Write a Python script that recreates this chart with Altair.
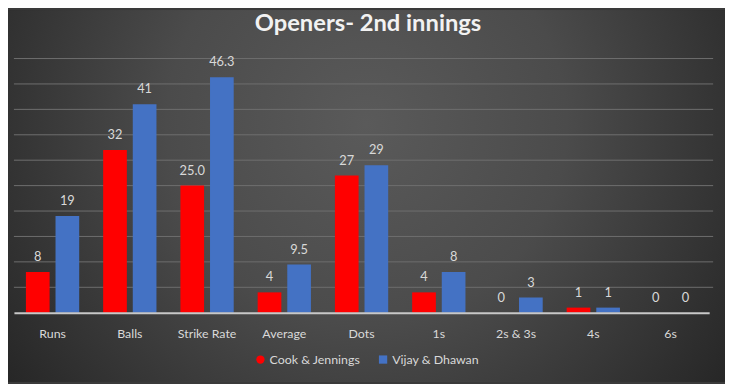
import altair as alt
import pandas as pd

categories = ["Runs", "Balls", "Strike Rate", "Average", "Dots", "1s", "2s & 3s", "4s", "6s"]
series = ["Cook & Jennings", "Vijay & Dhawan"]
cook_values = [8, 32, 25.0, 4, 27, 4, 0, 1, 0]
cook_labels = ["8", "32", "25.0", "4", "27", "4", "0", "1", "0"]
vijay_values = [19, 41, 46.3, 9.5, 29, 8, 3, 1, 0]
vijay_labels = ["19", "41", "46.3", "9.5", "29", "8", "3", "1", "0"]
grid_values = [5, 10, 15, 20, 25, 30, 35, 40, 45, 50]
title_text = "Openers- 2nd innings"
colors = ["#FF0000", "#4472C4"]

rows = []
for c, v, l in zip(categories, cook_values, cook_labels):
    rows.append({"cat": c, "series": series[0], "value": v, "label": l})
for c, v, l in zip(categories, vijay_values, vijay_labels):
    rows.append({"cat": c, "series": series[1], "value": v, "label": l})
df = pd.DataFrame(rows)
grid_df = pd.DataFrame({"g": grid_values})
one = pd.DataFrame({"t": [title_text]})

W, H = 703, 257
PAD = {"left": 6, "top": 49, "right": 16, "bottom": 70}

yscale = alt.Scale(domain=[0, 50], nice=False)
xscale = alt.Scale(paddingInner=0.31, paddingOuter=0.155)

bg = alt.Chart(one).mark_rect(
    fill={
        "gradient": "radial",
        "x1": 0.5, "y1": 0.4, "r1": 0,
        "x2": 0.5, "y2": 0.4, "r2": 0.62,
        "stops": [
            {"offset": 0, "color": "#5a5a5a"},
            {"offset": 0.45, "color": "#4b4b4b"},
            {"offset": 1, "color": "#262626"},
        ],
    }
).encode(
    x=alt.value(-PAD["left"]), x2=alt.value(W + PAD["right"]),
    y=alt.value(-PAD["top"]), y2=alt.value(H + PAD["bottom"]),
)

grid = alt.Chart(grid_df).mark_rule(color="#6e6e6e", strokeWidth=1).encode(
    y=alt.Y("g:Q", scale=yscale, axis=None),
    x=alt.value(0), x2=alt.value(W + 4),
)

bars = alt.Chart(df).mark_bar().encode(
    x=alt.X("cat:N", sort=categories, scale=xscale,
            axis=alt.Axis(title=None, labelAngle=0, ticks=False, domain=True,
                          domainColor="#c8c8c8", domainWidth=2, labelColor="#d9d9d9",
                          labelFont="Lato", labelFontSize=12.5, labelPadding=15,
                          grid=False, zindex=1)),
    xOffset=alt.XOffset("series:N", sort=series, scale=alt.Scale(paddingInner=0.2, paddingOuter=0)),
    y=alt.Y("value:Q", scale=yscale, axis=None),
    color=alt.Color("series:N", sort=series, scale=alt.Scale(domain=series, range=colors),
                    legend=alt.Legend(title=None, orient="none", direction="horizontal",
                                      legendX=243, legendY=298, padding=0,
                                      labelColor="#d9d9d9", labelFont="Lato", labelFontSize=12.5,
                                      symbolSize=70, symbolStrokeWidth=0, columnPadding=16,
                                      labelOffset=3,
                                      symbolType=alt.ExprRef("datum.value == 'Cook & Jennings' ? 'circle' : 'square'"))),
)

labels = alt.Chart(df).mark_text(
    color="#d9d9d9", font="Lato", fontSize=13, baseline="middle", dy=-15
).encode(
    x=alt.X("cat:N", sort=categories, scale=xscale),
    xOffset=alt.XOffset("series:N", sort=series, scale=alt.Scale(paddingInner=0.2, paddingOuter=0)),
    y=alt.Y("value:Q", scale=yscale),
    text="label:N",
)

title = alt.Chart(one).mark_text(
    color="#f2f2f2", font="Lato", fontSize=24, fontWeight="bold", baseline="middle", align="center"
).encode(
    x=alt.value(358), y=alt.value(-35), text="t:N"
)

chart = alt.layer(bg, grid, bars, labels, title).properties(
    width=W, height=H, padding=PAD,
    autosize=alt.AutoSizeParams(type="none"),
).configure(background="#3a3a3a").configure_view(stroke=None)

chart.save("out.html", embed_options={"renderer": "svg", "actions": False})
